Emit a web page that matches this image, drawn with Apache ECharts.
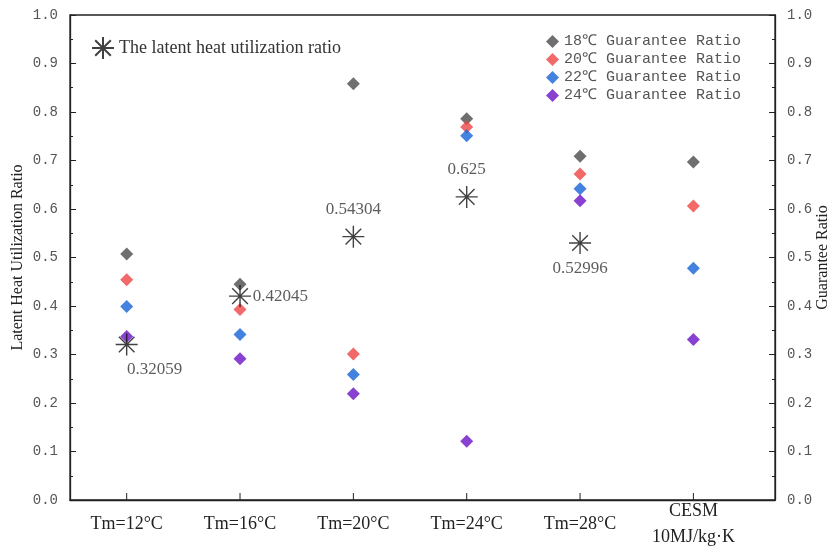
<!DOCTYPE html>
<html>
<head>
<meta charset="utf-8">
<script src="https://cdn.jsdelivr.net/npm/echarts@6/dist/echarts.min.js"></script>
<style>
  html, body { margin: 0; padding: 0; background: #fff; }
  #chart { width: 835px; height: 552px; }
</style>
</head>
<body>
<div id="chart"></div>
<script>
// categories along x
const categories = ['Tm=12°C', 'Tm=16°C', 'Tm=20°C', 'Tm=24°C', 'Tm=28°C', 'CESM\n10MJ/kg·K']
// latent heat utilization ratio (left axis), none for CESM
const latentRatio = [0.32059, 0.42045, 0.54304, 0.625, 0.52996, null]
// guarantee ratios (right axis)
const ratio18 = [0.507, 0.445, 0.858, 0.786, 0.709, 0.697]
const ratio20 = [0.454, 0.393, 0.301, 0.769, 0.672, 0.606]
const ratio22 = [0.399, 0.341, 0.259, 0.751, 0.642, 0.478]
const ratio24 = [0.337, 0.291, 0.219, 0.121, 0.617, 0.331]

const serif = '"Liberation Serif", "Times New Roman", serif'
const mono = '"Liberation Mono", "DejaVu Sans Mono", monospace'
const starPath = 'path://M10 0 L10 20 M0 10 L20 10 M2.9 2.9 L17.1 17.1 M17.1 2.9 L2.9 17.1'
const catIdx = categories.map((c, i) => i)

/* where each star's value label sits */
const starLabel = [
  { position: 'bottom', offset: [28, 0] },
  { position: 'right', offset: [-4, 0] },
  { position: 'top', offset: [0, -2] },
  { position: 'top', offset: [0, -2] },
  { position: 'bottom', offset: [0, 0] }
]

const yAxisBase = {
  type: 'value',
  min: 0, max: 1, interval: 0.1,
  axisLine: { show: true, onZero: false, lineStyle: { color: '#222', width: 1.3 } },
  axisTick: { show: true, inside: true, length: 6, lineStyle: { color: '#222' } },
  minorTick: { show: true, splitNumber: 2, length: 3, lineStyle: { color: '#222' } },
  splitLine: { show: false },
  axisLabel: {
    color: '#555', fontFamily: mono, fontSize: 14, margin: 12,
    formatter: v => v.toFixed(1)
  },
  nameLocation: 'middle',
  nameMoveOverlap: false,
  nameTextStyle: { fontFamily: serif, fontSize: 16, color: '#222' }
}

const diamond = (name, data, color) => ({
  name,
  type: 'scatter',
  yAxisIndex: 1,
  symbol: 'diamond',
  symbolSize: 13,
  itemStyle: { color },
  data: data.map((v, i) => [i, v]),
  z: 2
})

// bottom axis ticks at each category, pointing inward
const tickSeries = {
  type: 'custom',
  yAxisIndex: 1,
  silent: true,
  data: catIdx.map(i => [i, 0]),
  renderItem: (params, api) => {
    const p = api.coord([api.value(0), 0])
    return {
      type: 'line',
      shape: { x1: p[0], y1: p[1], x2: p[0], y2: p[1] - 7 },
      style: { stroke: '#222', lineWidth: 1 }
    }
  },
  z: 1
}

const option = {
  backgroundColor: '#fff',
  animation: false,
  grid: {
    left: 70, right: 60, top: 15, bottom: 52,
    outerBoundsMode: 'none', containLabel: false,
    show: true, borderColor: '#222', borderWidth: 1.3
  },
  legend: [
    {
      data: ['The latent heat utilization ratio'],
      left: 86, top: 31,
      itemWidth: 22, itemHeight: 22, itemGap: 6,
      textStyle: { fontFamily: serif, fontSize: 18, color: '#333' }
    },
    {
      data: ['18℃ Guarantee Ratio', '20℃ Guarantee Ratio', '22℃ Guarantee Ratio', '24℃ Guarantee Ratio'],
      orient: 'vertical',
      left: 541, top: 29,
      itemWidth: 13, itemHeight: 13, itemGap: 3,
      textStyle: { fontFamily: mono, fontSize: 15, color: '#555' }
    }
  ],
  xAxis: {
    type: 'value',
    min: -0.5, max: 5.72,
    axisLine: { show: true, onZero: false, lineStyle: { color: '#222', width: 1.3 } },
    axisTick: { show: false },
    splitLine: { show: false },
    axisLabel: {
      customValues: catIdx,
      formatter: v => categories[Math.round(v)],
      fontFamily: serif, fontSize: 18, color: '#222',
      margin: 24, lineHeight: 26, verticalAlign: 'middle'
    }
  },
  yAxis: [
    Object.assign({}, yAxisBase, { position: 'left', name: 'Latent Heat Utilization Ratio', nameGap: 44 }),
    Object.assign({}, yAxisBase, { position: 'right', name: 'Guarantee Ratio', nameGap: 40, nameRotate: 90 })
  ],
  series: [
    diamond('18℃ Guarantee Ratio', ratio18, '#4b4b4b'),
    diamond('20℃ Guarantee Ratio', ratio20, '#ee4343'),
    diamond('22℃ Guarantee Ratio', ratio22, '#1463d6'),
    diamond('24℃ Guarantee Ratio', ratio24, '#6a12c6'),
    {
      name: 'The latent heat utilization ratio',
      type: 'scatter',
      yAxisIndex: 0,
      symbol: starPath,
      symbolSize: 22,
      itemStyle: { color: 'rgba(0,0,0,0)', borderColor: '#111', borderWidth: 1.4 },
      data: latentRatio
        .map((v, i) => v == null ? null : {
          value: [i, v],
          label: Object.assign({ show: true }, starLabel[i])
        })
        .filter(d => d),
      label: {
        show: true,
        fontFamily: serif, fontSize: 17, color: '#333',
        formatter: p => String(p.value[1])
      },
      z: 3
    },
    tickSeries
  ]
}

const chart = echarts.init(document.getElementById('chart'))
chart.setOption(option)
</script>
</body>
</html>
